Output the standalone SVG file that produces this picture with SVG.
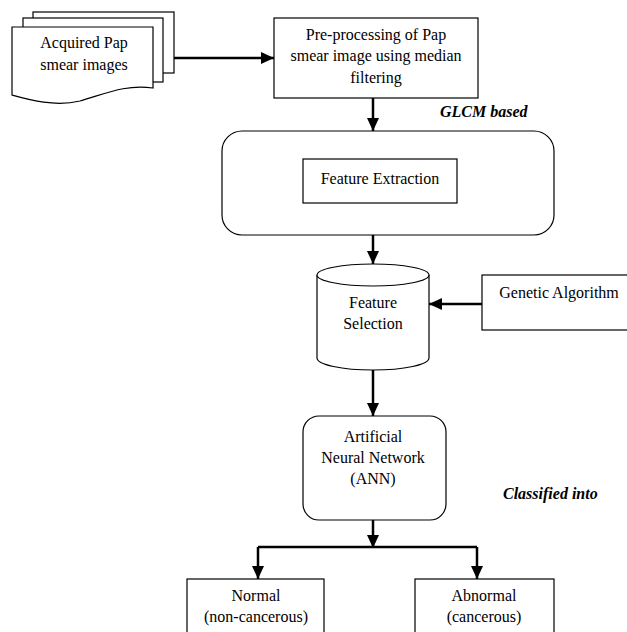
<svg xmlns="http://www.w3.org/2000/svg" width="627" height="632" viewBox="0 0 627 632">
<defs>
<style>
.box{fill:#fff;stroke:#000;stroke-width:1.2}
text{font-family:'Liberation Serif','DejaVu Serif',serif;font-size:16px;fill:#000}
.t{text-anchor:middle}
.lab{font-weight:bold;font-style:italic}
.c{fill:none;stroke:#000;stroke-width:2.5}
</style>
<marker id="ah" markerUnits="userSpaceOnUse" markerWidth="14" markerHeight="12" refX="13" refY="6" orient="auto">
<path d="M0,0 L13,6 L0,12 Z" fill="#000"/>
</marker>
</defs>
<rect width="627" height="632" fill="#fff"/>
<g id="acquired">
<rect class="box" x="33" y="12" width="141" height="61"/>
<rect class="box" x="23" y="18" width="140" height="64"/>
<path class="box" d="M12,27 H153 V88 C125,84 105,94 80,101 C55,107 30,100 12,95 Z"/>
<text class="t" x="84" y="48">Acquired Pap</text>
<text class="t" x="84" y="70">smear images</text>
</g>
<g id="preprocess">
<rect class="box" x="274" y="18" width="204" height="80"/>
<text class="t" x="376" y="40">Pre-processing of Pap</text>
<text class="t" x="376" y="61">smear image using median</text>
<text class="t" x="376" y="83">filtering</text>
</g>
<g id="extraction">
<rect class="box" x="222" y="131" width="332" height="104" rx="20" ry="20"/>
<rect class="box" x="303" y="159" width="154" height="44"/>
<text class="t" x="380" y="184">Feature Extraction</text>
</g>
<g id="selection">
<path class="box" d="M317,275 V358 A56,12 0 0 0 429,358 V275"/>
<ellipse class="box" cx="373" cy="275" rx="56" ry="11"/>
<text class="t" x="373" y="308">Feature</text>
<text class="t" x="373" y="329">Selection</text>
</g>
<g id="genetic">
<rect class="box" x="482" y="275" width="150" height="55"/>
<text class="t" x="559" y="298">Genetic Algorithm</text>
</g>
<g id="ann">
<rect class="box" x="303" y="416" width="143" height="104" rx="16" ry="16"/>
<text class="t" x="373" y="442">Artificial</text>
<text class="t" x="373" y="463">Neural Network</text>
<text class="t" x="373" y="484">(ANN)</text>
</g>
<g id="normal">
<rect class="box" x="187" y="579" width="137" height="60"/>
<text class="t" x="256" y="601">Normal</text>
<text class="t" x="256" y="622">(non-cancerous)</text>
</g>
<g id="abnormal">
<rect class="box" x="415" y="579" width="139" height="60"/>
<text class="t" x="484" y="601">Abnormal</text>
<text class="t" x="484" y="622">(cancerous)</text>
</g>
<g id="labels">
<text class="lab" x="440" y="117">GLCM based</text>
<text class="lab" x="503" y="499">Classified into</text>
</g>
<g id="connectors">
<line class="c" x1="174" y1="58" x2="274" y2="58" marker-end="url(#ah)"/>
<line class="c" x1="373" y1="98" x2="373" y2="131" marker-end="url(#ah)"/>
<line class="c" x1="373" y1="235" x2="373" y2="264" marker-end="url(#ah)"/>
<line class="c" x1="482" y1="304" x2="429" y2="304" marker-end="url(#ah)"/>
<line class="c" x1="373" y1="370" x2="373" y2="416" marker-end="url(#ah)"/>
<line class="c" x1="373" y1="520" x2="373" y2="548" marker-end="url(#ah)"/>
<polyline class="c" points="258,547 477,547"/>
<line class="c" x1="258" y1="547" x2="258" y2="579" marker-end="url(#ah)"/>
<line class="c" x1="477" y1="547" x2="477" y2="579" marker-end="url(#ah)"/>
</g>
</svg>
